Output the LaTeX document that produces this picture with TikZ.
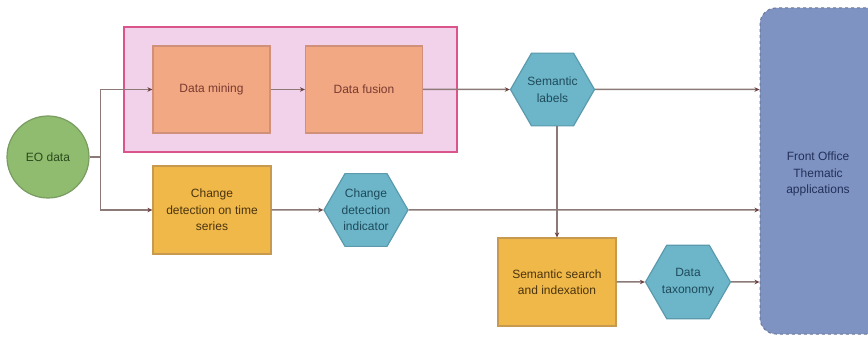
\documentclass[tikz,border=0pt]{standalone}
\usepackage{fontspec}
\setmainfont{Liberation Sans}
\usetikzlibrary{shapes.geometric,arrows.meta}

\definecolor{linec}{HTML}{8C7A78}
\definecolor{tipc}{HTML}{6E4040}
\definecolor{groupfill}{HTML}{F2D2EA}
\definecolor{groupdraw}{HTML}{D9558C}
\definecolor{salmonfill}{HTML}{F2A882}
\definecolor{salmondraw}{HTML}{D0907A}
\definecolor{ochrefill}{HTML}{F0B848}
\definecolor{ochredraw}{HTML}{C89A50}
\definecolor{hexfill}{HTML}{6DB6CA}
\definecolor{hexdraw}{HTML}{5A9AAC}
\definecolor{greenfill}{HTML}{8FBC6E}
\definecolor{greendraw}{HTML}{7A9C62}
\definecolor{fofill}{HTML}{7F93C2}
\definecolor{fodraw}{HTML}{6A7696}
\definecolor{proctext}{HTML}{7A3A30}
\definecolor{tasktext}{HTML}{4A3410}
\definecolor{hextext}{HTML}{1E4A5A}
\definecolor{eotext}{HTML}{2A4A1C}
\definecolor{fotext}{HTML}{22305A}

\tikzset{
  x=1pt, y=-1pt,
  every node/.style={font=\fontsize{12}{16.5}\selectfont, align=center},
  procbox/.style={rectangle, draw=salmondraw, fill=salmonfill, line width=1.2pt,
    minimum width=117pt, minimum height=87pt, inner sep=0pt, text=proctext},
  taskbox/.style={rectangle, draw=ochredraw, fill=ochrefill, line width=1.2pt,
    minimum width=118pt, minimum height=88pt, inner sep=0pt, text=tasktext},
  hexnode/.style={regular polygon, regular polygon sides=6, draw=hexdraw, fill=hexfill,
    line width=1.2pt, minimum size=84pt, inner sep=0pt, text=hextext},
  conn/.style={draw=linec, line width=1.5pt},
  arr/.style={conn, -{Stealth[length=5pt,width=4.5pt,color=tipc]}},
}

\begin{document}
\begin{tikzpicture}
  \useasboundingbox (0,0) rectangle (868,339);
  \clip (0,0) rectangle (868,339);

  % processing group
  \node[rectangle, draw=groupdraw, fill=groupfill, line width=1.6pt,
        minimum width=333pt, minimum height=125pt, inner sep=0pt] (grp) at (290.5,89.5) {};

  % front office column
  \node[rectangle, rounded corners=16pt, draw=fodraw, dashed, fill=fofill, line width=1pt,
        minimum width=140pt, minimum height=326pt, inner sep=0pt] (fo) at (830,171) {};
  \node[text=fotext, anchor=center] (folabel) at (818,174)
        {Front Office\\Thematic\\applications};

  % sources and processing
  \node[circle, draw=greendraw, fill=greenfill, line width=1.2pt, minimum size=82pt,
        inner sep=0pt, text=eotext] (eo) at (48,157) {EO data};
  \node[procbox] (dm) at (211.5,89.5) {Data mining};
  \node[procbox] (df) at (364,89.5) {Data fusion};
  \node[taskbox] (cd) at (212,210) {Change\\detection on time\\series};
  \node[hexnode] (cdi) at (366,210) {Change\\detection\\indicator};
  \node[hexnode] (sl) at (552.5,89.5) {Semantic\\labels};
  \node[taskbox] (ss) at (557,282) {Semantic search\\and indexation};
  \node[hexnode] (tax) at (688,282) {Data\\taxonomy};

  % connectors
  \draw[conn] (eo.east) -- ++(11,0) coordinate (split);
  \draw[arr] (split) |- (dm.west);
  \draw[arr] (split) |- (cd.west);
  \draw[arr] (dm) -- (df);
  \draw[arr] (df) -- (sl);
  \draw[arr] (sl) -- (sl -| fo.west);
  \draw[arr] (cd) -- (cdi);
  \draw[arr] (cdi) -- (cdi -| fo.west);
  \draw[arr] (sl.south -| ss.north) -- (ss.north);
  \draw[arr] (ss) -- (tax);
  \draw[arr] (tax) -- (tax -| fo.west);
\end{tikzpicture}
\end{document}
